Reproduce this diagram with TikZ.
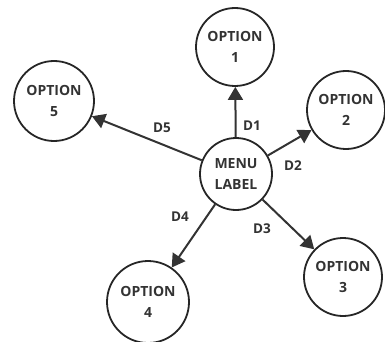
\documentclass[tikz,border=0pt]{standalone}
\usepackage{fontspec}
\setmainfont{Open Sans}
\usetikzlibrary{arrows.meta}
\begin{document}
\begin{tikzpicture}[x=1pt,y=-1pt,
    opt/.style={circle, draw=black!85, line width=1.8pt, minimum size=78pt, inner sep=0pt,
        align=center, font=\fontsize{14}{20.5}\selectfont\bfseries, text=black!80},
    link/.style={draw=black!80, line width=2pt, -{Triangle[length=13pt,width=15pt]}},
    dlab/.style={font=\fontsize{13.5}{15}\selectfont\bfseries, text=black!80}]
    \useasboundingbox (0,0) rectangle (385,342);

    \node[opt, minimum size=72pt] (menu) at (236,174) {MENU\\LABEL};
    \node[opt] (opt1) at (235,47) {OPTION\\1};
    \node[opt] (opt2) at (346,110) {OPTION\\2};
    \node[opt] (opt3) at (343,277) {OPTION\\3};
    \node[opt, minimum size=82pt] (opt4) at (148,302) {OPTION\\4};
    \node[opt, minimum size=80pt] (opt5) at (54,101) {OPTION\\5};

    \foreach \n in {1,...,5}
    {
        \draw[link] (menu) -- (opt\n);
    }

    \node[dlab] (d1) at (252,126) {D1};
    \node[dlab] (d2) at (293,166) {D2};
    \node[dlab] (d3) at (262,229) {D3};
    \node[dlab] (d4) at (180,217) {D4};
    \node[dlab] (d5) at (162,128) {D5};
\end{tikzpicture}
\end{document}
